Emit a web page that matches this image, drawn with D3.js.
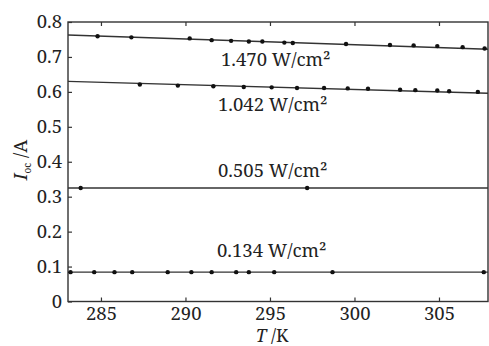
<!DOCTYPE html>
<html>
<head>
<meta charset="UTF-8">
<style>
  body { margin: 0; background: #fff; }
  text { font-family: "Noto Serif", "Liberation Serif", serif; fill: #222; }
</style>
</head>
<body>
<svg></svg>
<script src="https://d3js.org/d3.v7.min.js"></script>
<script>
let width = 489, height = 346;
let svg = d3.select("svg").attr("width", width).attr("height", height);
const fs = 18.5;

// data
const labels = ["1.470 W/cm\u00b2", "1.042 W/cm\u00b2", "0.505 W/cm\u00b2", "0.134 W/cm\u00b2"];
const T1470 = [284.8, 286.8, 290.25, 291.55, 292.7, 293.75, 294.55, 295.85, 296.35, 299.5, 302.1, 303.5, 304.9, 306.4, 307.7];
const I1470 = [0.759, 0.756, 0.753, 0.748, 0.746, 0.744, 0.744, 0.741, 0.740, 0.737, 0.734, 0.733, 0.731, 0.728, 0.724];
const T1042 = [287.3, 289.55, 291.65, 293.45, 295.1, 296.6, 298.2, 299.6, 300.8, 302.7, 303.6, 304.9, 305.6, 307.3];
const I1042 = [0.621, 0.618, 0.616, 0.614, 0.613, 0.611, 0.611, 0.610, 0.609, 0.606, 0.605, 0.604, 0.602, 0.600];
const T505 = [283.8, 297.2];
const I505 = [0.325, 0.325];
const T134 = [283.2, 284.6, 285.8, 286.85, 288.95, 290.35, 291.55, 293.0, 293.75, 295.25, 298.7, 307.65];
const I134 = [0.084, 0.084, 0.084, 0.084, 0.084, 0.084, 0.084, 0.084, 0.084, 0.084, 0.084, 0.084];
// fitted lines: value at left and right edge of the plot
const fitLeft = [0.763, 0.630, 0.325, 0.084];
const fitRight = [0.722, 0.596, 0.325, 0.084];
const xTicks = [285, 290, 295, 300, 305];
const yTicks = [0, 0.1, 0.2, 0.3, 0.4, 0.5, 0.6, 0.7, 0.8];

const series = [[T1470, I1470], [T1042, I1042], [T505, I505], [T134, I134]];
const labelPos = [[221, 0.674], [218, 0.545], [218, 0.356], [217, 0.127]];

let x = d3.scaleLinear().domain([283.05, 307.9]).range([68, 488]);
let y = d3.scaleLinear().domain([0, 0.8]).range([301.5, 22]);

// frame
svg.append("rect").attr("x", 68).attr("y", 22).attr("width", 420).attr("height", 279.5)
  .attr("fill", "none").attr("stroke", "#333").attr("stroke-width", 1.4);

// axes (ticks pointing inward)
let gx = svg.append("g").attr("transform", "translate(0,301.5)")
  .call(d3.axisBottom(x).tickValues(xTicks).tickSizeInner(-4).tickSizeOuter(0).tickPadding(6));
let gxTop = svg.append("g").attr("transform", "translate(0,22)")
  .call(d3.axisTop(x).tickValues(xTicks).tickSizeInner(-4).tickSizeOuter(0).tickFormat(""));
let gy = svg.append("g").attr("transform", "translate(68,0)")
  .call(d3.axisLeft(y).tickValues(yTicks).tickSizeInner(-4).tickSizeOuter(0).tickPadding(6)
    .tickFormat(d => d === 0 ? "0" : d3.format(".1f")(d)));

[gx, gxTop, gy].forEach(g => {
  g.attr("font-family", "Noto Serif").attr("font-size", fs);
  g.select(".domain").remove();
  g.selectAll("line").attr("stroke", "#333").attr("stroke-width", 1.2);
  g.selectAll("text").attr("fill", "#222");
});
gx.selectAll("text").attr("dy", "0.68em");

// lines and points
series.forEach((s, i) => {
  svg.append("line")
    .attr("x1", x(283.05)).attr("x2", x(307.9))
    .attr("y1", y(fitLeft[i])).attr("y2", y(fitRight[i]))
    .attr("stroke", "#333").attr("stroke-width", 1.4);
  svg.append("g").selectAll("circle")
    .data(s[0].map((t, j) => [t, s[1][j]]))
    .enter().append("circle")
    .attr("cx", d => x(d[0])).attr("cy", d => y(d[1]))
    .attr("r", 2.2).attr("fill", "#111");
  svg.append("text").attr("x", labelPos[i][0]).attr("y", y(labelPos[i][1]))
    .attr("font-size", fs).text(labels[i]);
});

// axis titles
let yt = svg.append("text").attr("transform", "translate(27,160) rotate(-90)")
  .attr("text-anchor", "middle").attr("font-size", fs);
yt.append("tspan").attr("font-style", "italic").text("I");
yt.append("tspan").attr("font-size", 10).attr("dy", 4).text("oc");
yt.append("tspan").attr("dy", -4).text(" /A");

let xt = svg.append("text").attr("x", 272).attr("y", 342)
  .attr("text-anchor", "middle").attr("font-size", 17.5);
xt.append("tspan").attr("font-style", "italic").text("T");
xt.append("tspan").text(" /K");
</script>
</body>
</html>
